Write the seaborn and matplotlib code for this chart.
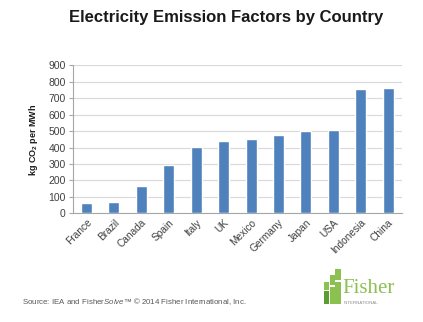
import matplotlib
matplotlib.use("Agg")
import matplotlib.pyplot as plt
import seaborn as sns
import pandas as pd
import numpy as np
from matplotlib.patches import Rectangle

countries = ["France", "Brazil", "Canada", "Spain", "Italy", "UK", "Mexico",
             "Germany", "Japan", "USA", "Indonesia", "China"]
emissions = [61, 69, 168, 292, 401, 441, 452, 476, 500, 505, 754, 764]
yticks = [0, 100, 200, 300, 400, 500, 600, 700, 800, 900]

sns.set_theme(style="white")
plt.rcParams["font.family"] = ["Liberation Sans", "DejaVu Sans"]
plt.rcParams["mathtext.fontset"] = "custom"
plt.rcParams["mathtext.rm"] = "Liberation Sans"
plt.rcParams["mathtext.it"] = "Liberation Sans:italic"
plt.rcParams["mathtext.bf"] = "Liberation Sans:bold"

df = pd.DataFrame({"country": countries, "value": emissions})

fig = plt.figure(figsize=(4.23, 3.22), dpi=100)
ax = fig.add_axes([0.172, 0.3376, 0.778, 0.4594])

sns.barplot(data=df, x="country", y="value", color="#4f81bd", width=0.4,
            saturation=1, ax=ax, zorder=3)

ax.set_ylim(0, 900)
ax.set_xlim(-0.5, len(countries) - 0.5)
ax.set_yticks(yticks)
ax.yaxis.grid(True, color="#d9d9d9", linewidth=0.8, zorder=0)
ax.set_axisbelow(True)
for s in ["top", "right"]:
    ax.spines[s].set_visible(False)
for s in ["left", "bottom"]:
    ax.spines[s].set_color("#a6a6a6")
    ax.spines[s].set_linewidth(0.8)

ax.set_xticks(range(len(countries)))
ax.set_xticklabels(countries, rotation=45, ha="right", rotation_mode="anchor",
                   fontsize=7.3, color="#404040")
ax.tick_params(axis="x", which="major", length=0, pad=3)
ax.set_xticks(np.arange(-0.5, len(countries), 1.0), minor=True)
ax.tick_params(axis="x", which="minor", length=3, color="#a6a6a6", width=0.8, direction="out")
ax.tick_params(axis="y", length=3, color="#a6a6a6", width=0.8, direction="out",
               labelsize=7.5, labelcolor="#404040", pad=2, left=True)
ax.set_xlabel("")
ax.set_ylabel(r"kg CO$_\mathbf{2}$ per MWh", fontsize=6.5, fontweight="bold",
              color="#1a1a1a", labelpad=6)

fig.text(0.535, 0.945, "Electricity Emission Factors by Country", ha="center",
         va="center", fontsize=12, fontweight="bold", color="#1a1a1a")
fig.text(0.052, 0.062,
         "Source: IEA and Fisher$\\it{Solve}$\u2122 \u00a9 2014 Fisher International, Inc.",
         ha="left", va="center", fontsize=5.7, color="#595959")

# logo
green = "#8cc152"
dark = "#5a9e2f"
for (x, y, w, h, c) in [(0.765, 0.055, 0.012, 0.04, dark), (0.779, 0.055, 0.012, 0.055, green),
                        (0.779, 0.115, 0.012, 0.03, green), (0.793, 0.055, 0.012, 0.07, green),
                        (0.793, 0.13, 0.012, 0.035, green), (0.765, 0.10, 0.012, 0.025, green)]:
    fig.patches.append(Rectangle((x, y), w, h, transform=fig.transFigure,
                                 facecolor=c, edgecolor="none"))
fig.text(0.81, 0.105, "Fisher", fontsize=15, color=green, family="Liberation Serif",
         ha="left", va="center")
fig.text(0.812, 0.058, "INTERNATIONAL", fontsize=3.2, color="#8c8c8c", ha="left",
         va="center")

fig.savefig("out.png", dpi=100)
